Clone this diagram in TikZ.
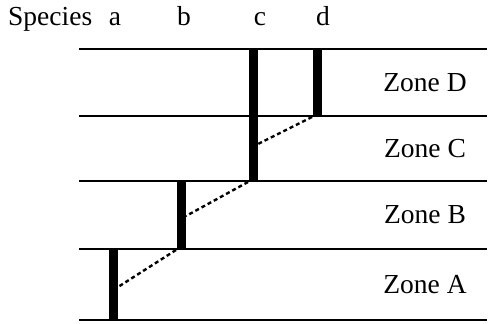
\documentclass[tikz,border=0pt]{standalone}
\usepackage{fontspec}
\setmainfont{Liberation Serif}
\begin{document}
\begin{tikzpicture}[x=1pt,y=-1pt,
  zoneline/.style={line width=2.5pt},
  rangebar/.style={line width=9pt,line cap=butt},
  shiftline/.style={line width=2.4pt,dash pattern=on 4pt off 3pt},
  label/.style={font=\fontsize{27.5}{30}\selectfont,inner sep=0pt}]
\useasboundingbox (0,0) rectangle (491,324);

% zone boundaries (left and right ends)
\foreach \n/\y in {0/49,1/116,2/181,3/249,4/320}{
  \coordinate (L\n) at (79,\y);
  \coordinate (R\n) at (487,\y);
  \draw[zoneline] (L\n) -- (R\n);
}

% header labels
\node[label,anchor=base west] (species) at (8,25) {Species};
\node[label,anchor=base] (sa) at (115,25) {a};
\node[label,anchor=base] (sb) at (184,25) {b};
\node[label,anchor=base] (sc) at (260,25) {c};
\node[label,anchor=base] (sd) at (323,25) {d};

% zone labels
\node[label] (zD) at (425,82.5) {Zone D};
\node[label] (zC) at (425,148.5) {Zone C};
\node[label] (zB) at (425,215) {Zone B};
\node[label] (zA) at (425,284.5) {Zone A};

% range bars of each species
\coordinate (dtop) at (317,49);  \coordinate (dbot) at (317,116);
\coordinate (ctop) at (253,49);  \coordinate (cbot) at (253,181);
\coordinate (btop) at (181,181); \coordinate (bbot) at (181,249);
\coordinate (atop) at (113,249); \coordinate (abot) at (113,320);
\draw[rangebar] (dtop) -- (dbot);
\draw[rangebar] (ctop) -- (cbot);
\draw[rangebar] (btop) -- (bbot);
\draw[rangebar] (atop) -- (abot);

% dashed links between successive species
\coordinate (dlink) at (312,117); \coordinate (clink) at (258,144);
\coordinate (clow) at (248,182);  \coordinate (blink) at (186,216);
\coordinate (blow) at (176,250);  \coordinate (alink) at (118,287);
\draw[shiftline] (dlink) -- (clink);
\draw[shiftline] (clow) -- (blink);
\draw[shiftline] (blow) -- (alink);
\end{tikzpicture}
\end{document}
